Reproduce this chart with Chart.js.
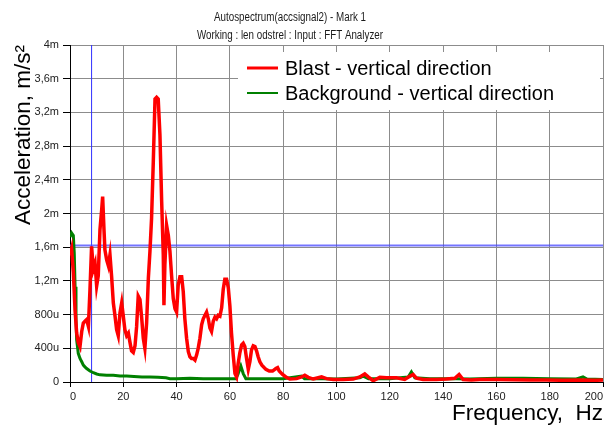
<!DOCTYPE html>
<html>
<head>
<meta charset="utf-8">
<script src="https://cdn.jsdelivr.net/npm/chart.js@4.4.0/dist/chart.umd.min.js"></script>
<style>
    body { margin: 0; background: #fff; }
    #wrap { width: 607px; height: 425px; }
</style>
</head>
<body>
<div id="wrap"><canvas id="chart" width="607" height="425"></canvas></div>
<script>
// values, acceleration in mm/s² ("m" on the axis)
const titleLines = ['Autospectrum(accsignal2) - Mark 1', 'Working : len odstrel : Input : FFT Analyzer'];
const seriesLabels = ['Blast - vertical direction', 'Background - vertical direction'];

const blastFreq = [0, 0.6, 1.25, 1.9, 2.5, 3.1, 3.75, 4.4, 5, 5.6, 6.25, 6.9, 7.5, 8.1, 8.75, 9.4, 10, 10.6,
    11.25, 11.9, 12.25, 12.75, 13.1, 13.75, 14.4, 15, 15.6, 16.25, 16.9, 17.5, 18.1, 18.75, 19.4, 20, 20.6,
    21.25, 21.9, 22.5, 23.1, 23.75, 24.4, 25, 25.6, 26.25, 26.9, 27.5, 28.1, 28.75, 29.4, 30, 30.6, 31.25,
    31.9, 32.5, 33.1, 33.75, 34.4, 35, 35.25, 35.6, 36.25, 36.9, 37.5, 38.1, 38.75, 39.4, 40, 40.6, 41.25,
    41.9, 42.5, 43.1, 43.75, 44.4, 45, 45.6, 46.25, 46.9, 47.5, 48.1, 48.75, 49.4, 50, 50.6, 51.25, 51.9,
    52.5, 53.1, 53.75, 54.4, 55, 55.6, 56.25, 56.9, 57.5, 58.1, 58.75, 59.4, 60, 60.6, 61.25, 61.9, 62.5,
    63.1, 63.75, 64.4, 65, 65.6, 66.25, 66.9, 67.5, 68.1, 68.75, 69.4, 70, 70.6, 71.25, 72, 73.5, 74.75,
    76, 77.25, 77.9, 78.5, 79.75, 81, 82.5, 85, 86.9, 88.1, 89.4, 91.25, 94.4, 96.25, 98.75, 102.5, 106.25,
    108.75, 110.6, 111.9, 113.75, 116.25, 118.75, 122.5, 125.6, 126.9, 128.75, 130, 132.5, 137.5, 141.25,
    144.4, 146, 147.5, 150.6, 153.75, 160, 166, 172.5, 178.75, 185, 191.25, 197.5, 200];
const blastAcc = [1.50, 1.58, 1.30, 0.85, 0.58, 0.47, 0.42, 0.60, 0.70, 0.72, 0.74, 0.66, 1.10, 1.61, 1.34, 1.41, 1.14, 1.26,
    1.81, 2.05, 2.20, 1.81, 1.57, 1.45, 1.38, 1.51, 1.26, 0.94, 0.78, 0.62, 0.55, 0.82, 0.94, 0.78, 0.62,
    0.55, 0.58, 0.47, 0.37, 0.35, 0.43, 0.66, 1.02, 0.98, 0.76, 0.52, 0.40, 0.70, 1.23, 1.55, 1.94, 2.61,
    3.36, 3.38, 3.36, 2.93, 2.14, 1.51, 0.91, 1.39, 1.86, 1.74, 1.55, 1.27, 0.99, 0.87, 0.83, 1.15, 1.25,
    1.25, 1.07, 0.75, 0.52, 0.36, 0.30, 0.28, 0.28, 0.26, 0.32, 0.40, 0.52, 0.68, 0.75, 0.79, 0.83, 0.75,
    0.64, 0.60, 0.72, 0.77, 0.75, 0.79, 0.78, 0.88, 1.10, 1.22, 1.22, 1.12, 0.90, 0.58, 0.32, 0.10, 0.06,
    0.22, 0.35, 0.44, 0.46, 0.42, 0.28, 0.15, 0.24, 0.38, 0.43, 0.42, 0.37, 0.30, 0.24, 0.20, 0.15, 0.13,
    0.13, 0.16, 0.17, 0.13, 0.09, 0.06, 0.035, 0.04, 0.06, 0.08, 0.055, 0.035, 0.06, 0.04, 0.03, 0.03, 0.035,
    0.06, 0.095, 0.06, 0.015, 0.055, 0.05, 0.05, 0.03, 0.055, 0.09, 0.045, 0.03, 0.03, 0.035,
    0.045, 0.09, 0.03, 0.025, 0.03, 0.03, 0.028, 0.025, 0.025, 0.02, 0.025, 0.02, 0.025];

const backgroundFreq = [0, 0.6, 1.25, 1.6, 1.9, 2.25, 2.5, 3.1, 3.75, 4.4, 5, 5.6, 6.25, 7.5, 8.75, 10, 11.25,
    13.75, 16.25, 18.75, 21.25, 24, 27, 30, 33, 36, 37.5, 40, 45, 50, 55, 60, 62.25, 63, 64.1, 65, 66, 70,
    80, 86.9, 88, 95, 100, 108.75, 110, 112, 120, 126.9, 128.1, 129.4, 135, 145, 150, 160, 170, 180, 190,
    192.5, 194, 200];
const backgroundAcc = [1.72, 1.77, 1.74, 1.53, 1.13, 0.74, 0.50, 0.34, 0.28, 0.24, 0.20, 0.18, 0.16, 0.13, 0.11, 0.095, 0.085,
    0.08, 0.08, 0.07, 0.07, 0.065, 0.06, 0.06, 0.055, 0.05, 0.04, 0.04, 0.045, 0.04, 0.04, 0.04, 0.04, 0.09, 0.19, 0.10, 0.04, 0.04,
    0.04, 0.07, 0.04, 0.04, 0.035, 0.05, 0.07, 0.04, 0.04, 0.06, 0.12, 0.05, 0.04, 0.04, 0.035, 0.045, 0.045, 0.04, 0.035,
    0.06, 0.035, 0.03];

// Mark 1 cursor
const cursorFreq = 8.1;
const cursorAcc = 1.62;

const xTicks = {min: 0, max: 200, step: 20};
const yTicks = {min: 0, max: 4, step: 0.4};

const toPoints = (xs, ys) => xs.map((x, i) => ({x, y: ys[i]}));

// 0 / 400u / 1,2m ...
function formatAcc(value) {
    if (value === 0) return '0';
    const v = Math.round(value * 10) / 10;
    if (v < 1) return `${Math.round(v * 1000)}u`;
    return `${v}`.replace('.', ',') + 'm';
}

const headerPlugin = {
    id: 'header',
    afterDraw(chart) {
        const ctx = chart.ctx;
        ctx.save();
        ctx.fillStyle = '#1a1a1a';
        ctx.font = `12.5px "Liberation Sans", Arial, sans-serif`;
        ctx.textAlign = 'center';
        ctx.textBaseline = 'middle';
        // the original header uses a narrow face, squeeze to its width
        ctx.fillText(titleLines[0], 290, 18, 152);
        ctx.fillText(titleLines[1], 290, 36, 186);
        ctx.restore();
    }
};

// white legend box drawn over the grid, top right
const boxLegendPlugin = {
    id: 'boxLegend',
    afterDatasetsDraw(chart) {
        const ctx = chart.ctx;
        const area = chart.chartArea;
        const left = area.left + 168, top = area.top + 7;
        ctx.save();
        ctx.fillStyle = '#fff';
        ctx.fillRect(left, top, area.right - 3 - left, 58);
        ctx.font = `20px "Liberation Sans", Arial, sans-serif`;
        ctx.textBaseline = 'middle';
        ctx.fillStyle = '#000';
        chart.data.datasets.filter(ds => ds.label).forEach((ds, i) => {
            const y = top + 16 + i * 25;
            ctx.strokeStyle = ds.borderColor;
            ctx.lineWidth = i === 0 ? 3 : 2;
            ctx.beginPath();
            ctx.moveTo(left + 9, y);
            ctx.lineTo(left + 40, y);
            ctx.stroke();
            ctx.fillText(ds.label, left + 47, y + 1);
        });
        ctx.restore();
    }
};

const gridColor = '#8c8c8c';
const tickFont = {family: '"Liberation Sans", Arial, sans-serif', size: 11};
const titleFont = {family: '"Liberation Sans", Arial, sans-serif', size: 22.5, lineHeight: 1};

new Chart(document.getElementById('chart'), {
    type: 'line',
    data: {
        datasets: [
            {
                label: seriesLabels[0],
                data: toPoints(blastFreq, blastAcc),
                borderColor: '#ff0000',
                borderWidth: 3.5,
            },
            {
                label: seriesLabels[1],
                data: toPoints(backgroundFreq, backgroundAcc),
                borderColor: '#008000',
                borderWidth: 3,
            },
            {
                data: [{x: xTicks.min, y: cursorAcc}, {x: xTicks.max, y: cursorAcc}],
                borderColor: 'rgba(70, 70, 255, 0.75)',
                borderWidth: 2,
            },
            {
                data: [{x: cursorFreq, y: yTicks.min}, {x: cursorFreq, y: yTicks.max}],
                borderColor: '#3030ff',
                borderWidth: 1,
            }
        ]
    },
    options: {
        responsive: false,
        animation: false,
        devicePixelRatio: 1,
        layout: {padding: {top: 45, right: 4, bottom: 0, left: 0}},
        elements: {
            point: {radius: 0},
            line: {tension: 0, fill: false}
        },
        plugins: {
            legend: {display: false},
            tooltip: {enabled: false}
        },
        scales: {
            x: {
                type: 'linear',
                min: xTicks.min,
                max: xTicks.max,
                ticks: {stepSize: xTicks.step, align: 'inner', font: tickFont, color: '#222', padding: 3, maxRotation: 0},
                grid: {color: gridColor, tickColor: '#000', tickLength: 5},
                border: {color: '#000', width: 1},
                title: {display: true, text: 'Frequency,  Hz', align: 'end', color: '#000', font: titleFont, padding: 0},
                afterFit: scale => {
                    scale.height = 43;
                    scale.paddingLeft = 0;
                    scale.paddingRight = 0;
                }
            },
            y: {
                min: yTicks.min,
                max: yTicks.max,
                ticks: {stepSize: yTicks.step, font: tickFont, color: '#222', padding: 4, callback: formatAcc},
                grid: {color: gridColor, tickColor: '#000', tickLength: 7},
                border: {color: '#000', width: 1},
                title: {display: true, text: 'Acceleration, m/s²', align: 'end', color: '#000', font: titleFont, padding: {top: 13, bottom: 0}},
                afterFit: scale => {
                    scale.width = 70;
                }
            }
        }
    },
    plugins: [headerPlugin, boxLegendPlugin]
});
</script>
</body>
</html>
